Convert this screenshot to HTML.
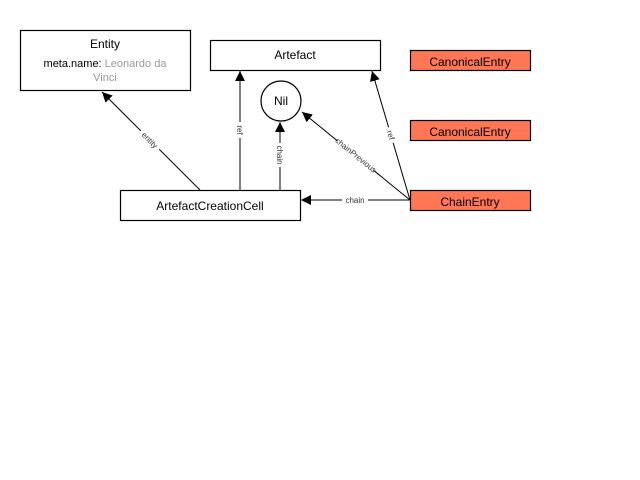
<!DOCTYPE html>
<html><head><style>body{margin:0;background:#fff}svg{display:block}text{font-family:"Liberation Sans",sans-serif}</style></head><body>
<svg width="640" height="480" viewBox="0 0 640 480">
<defs><marker id="a" viewBox="0 0 10 10" refX="10" refY="5" markerWidth="10" markerHeight="10" markerUnits="userSpaceOnUse" orient="auto"><path d="M0,0L10,5L0,10z" fill="#000"/></marker></defs>
<g fill="#fff" stroke="#000" stroke-width="1.2">
<rect x="20.5" y="30.5" width="170" height="60"/>
<rect x="210.5" y="40.5" width="170" height="30"/>
<rect x="120.5" y="190.5" width="180" height="30"/>
<circle cx="281" cy="101" r="20"/>
<rect x="410.5" y="50.5" width="120" height="20" fill="#ff7755"/>
<rect x="410.5" y="120.5" width="120" height="20" fill="#ff7755"/>
<rect x="410.5" y="190.5" width="120" height="20" fill="#ff7755"/>
</g>
<g stroke="#000" stroke-width="1" fill="none" marker-end="url(#a)">
<line x1="200" y1="190" x2="102" y2="92"/>
<line x1="240" y1="190" x2="240" y2="71"/>
<line x1="280" y1="190" x2="280" y2="122"/>
<line x1="410" y1="200" x2="302" y2="112"/>
<line x1="410" y1="200" x2="372" y2="71"/>
<line x1="410" y1="200" x2="301" y2="200"/>
</g>
<g font-size="8" fill="#333" text-anchor="middle">
<g transform="translate(150,140) rotate(45)"><rect x="-13" y="-5" width="26" height="10" fill="#fff"/><text y="3">entity</text></g>
<g transform="translate(240,130) rotate(90)"><rect x="-8" y="-5" width="16" height="10" fill="#fff"/><text y="3">ref</text></g>
<g transform="translate(280,155) rotate(90)"><rect x="-12" y="-5" width="24" height="10" fill="#fff"/><text y="3">chain</text></g>
<g transform="translate(356,155) rotate(39)"><rect x="-23" y="-5" width="46" height="10" fill="#fff"/><text y="3">chainPrevious</text></g>
<g transform="translate(391,135) rotate(73)"><rect x="-8" y="-5" width="16" height="10" fill="#fff"/><text y="3">ref</text></g>
<rect x="342" y="195" width="26" height="10" fill="#fff"/><text x="355" y="203">chain</text>
</g>
<g font-size="12" fill="#000" text-anchor="middle">
<text x="105" y="48">Entity</text>
<text x="105" y="67" font-size="11">meta.name: <tspan fill="#999">Leonardo da</tspan></text>
<text x="105" y="81" font-size="11" fill="#999">Vinci</text>
<text x="295" y="59">Artefact</text>
<text x="281" y="105">Nil</text>
<text x="210" y="210">ArtefactCreationCell</text>
<text x="470" y="66">CanonicalEntry</text>
<text x="470" y="136">CanonicalEntry</text>
<text x="470" y="206">ChainEntry</text>
</g>
</svg>
</body></html>
